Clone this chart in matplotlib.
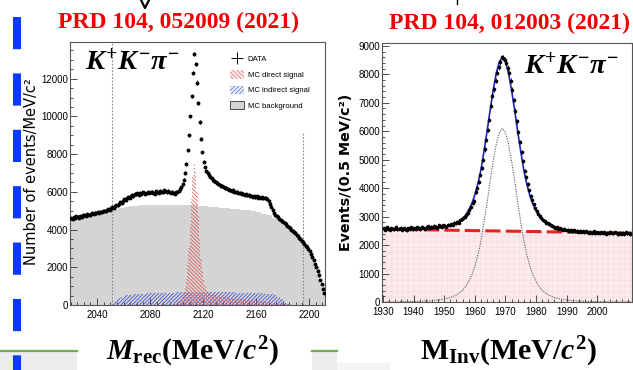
import numpy as np
import matplotlib
matplotlib.use('Agg')
import matplotlib.pyplot as plt
from matplotlib.patches import Patch, Rectangle
from matplotlib.lines import Line2D
from matplotlib.ticker import MultipleLocator
from matplotlib import font_manager

# ---- left panel: recoil mass, 1 MeV bins from 2020 ----
rec_data = [
    4600, 4580, 4650, 4620, 4700, 4660, 4640, 4720, 4690, 4750,
    4780, 4740, 4820, 4800, 4760, 4850, 4880, 4830, 4900, 4870,
    4920, 4890, 4950, 4930, 4980, 5000, 4970, 5040, 5080, 5060,
    5130, 5200, 5170, 5250, 5300, 5280, 5380, 5450, 5420, 5520,
    5600, 5580, 5680, 5720, 5700, 5800, 5850, 5780, 5900, 5880,
    5920, 5860, 5950, 5900, 5980, 5930, 5880, 5960, 6000, 5940,
    5990, 6020, 5950, 5900, 6040, 6000, 5960, 6060, 6010, 5970,
    6080, 6030, 5980, 6050, 6020, 5940, 6000, 5960, 5900, 5980,
    6000, 6050, 6150, 6250, 6400, 6650, 7000, 7500, 8200, 9000,
    10000, 11100, 12300, 13300, 12800, 11800, 10700, 9700, 8800, 8100,
    7600, 7300, 7100, 7000, 6900, 6800, 6720, 6640, 6570, 6500,
    6450, 6420, 6380, 6300, 6320, 6250, 6200, 6230, 6150, 6120,
    6100, 6060, 6080, 6010, 5980, 6020, 5950, 5930, 5960, 5890,
    5900, 5860, 5880, 5820, 5840, 5780, 5800, 5750, 5770, 5720,
    5760, 5700, 5730, 5680, 5720, 5660, 5700, 5650, 5620, 5500,
    5350, 5200, 5050, 4900, 4800, 4720, 4650, 4580, 4500, 4450,
    4400, 4330, 4270, 4200, 4150, 4080, 4000, 3950, 3870, 3800,
    3720, 3650, 3580, 3500, 3420, 3330, 3250, 3150, 3050, 2950,
    2850, 2720, 2550, 2380, 2200, 2000, 1800, 1580, 1350, 1100,
    850, 620,
]
rec_start = 2020

# MC background, 4 MeV bins from 2020
mc_bkg = [
    4550, 4600, 4700, 4780, 4850, 4920, 4980, 5050, 5100, 5150,
    5200, 5230, 5260, 5280, 5300, 5300, 5320, 5320, 5320, 5310,
    5300, 5300, 5290, 5280, 5260, 5240, 5220, 5200, 5170, 5140,
    5100, 5080, 5060, 5050, 5000, 4950, 4850, 4750, 4600, 4450,
    4300, 4150, 3900, 3600, 3250, 2700, 2000, 1100,
]
mc_bkg_start = 2020

# MC direct signal, 1 MeV bins from 2098
mc_direct = [
    80, 100, 130, 170, 230, 320, 450, 650, 950, 1400,
    2100, 3000, 4200, 5600, 6900, 7600, 7100, 6000, 4700, 3500,
    2500, 1800, 1300, 1000, 820, 720, 660, 620, 590, 560,
    540, 520, 500, 485, 470, 455, 440, 430, 420, 410,
    400, 390, 380, 370, 360, 350, 340, 332, 325, 318,
    310, 302, 295, 288, 280, 272, 265, 258, 250, 243,
    236, 229, 222, 215, 208, 200, 193, 186, 178, 170,
    163, 155, 148, 140, 132, 124, 116, 108, 100, 92,
    84, 76, 68, 60, 52, 44, 36, 28, 20, 12,
    6, 2,
]
mc_direct_start = 2098

# MC indirect signal, 2 MeV bins from 2050
mc_indirect = [
    60, 180, 300, 390, 450, 490, 520, 540, 555, 570,
    580, 590, 598, 605, 612, 618, 624, 630, 635, 640,
    645, 650, 654, 658, 662, 666, 670, 673, 676, 680,
    682, 684, 686, 688, 690, 690, 690, 689, 688, 686,
    684, 682, 680, 677, 674, 670, 666, 662, 658, 654,
    650, 645, 640, 635, 630, 624, 618, 612, 605, 598,
    590, 570, 520, 430, 320, 210, 120, 60, 25, 8,
]
mc_indirect_start = 2050

signal_window = [2051, 2195.5]

# ---- right panel: invariant mass, 0.5 MeV bins from 1930 ----
inv_data = [
    2590, 2540, 2620, 2570, 2530, 2600, 2580, 2550, 2630, 2560,
    2570, 2610, 2540, 2590, 2560, 2520, 2600, 2580, 2620, 2550,
    2600, 2570, 2630, 2590, 2550, 2640, 2600, 2580, 2620, 2660,
    2600, 2650, 2620, 2680, 2640, 2610, 2690, 2660, 2630, 2700,
    2680, 2650, 2720, 2690, 2740, 2710, 2780, 2760, 2820, 2790,
    2870, 2900, 2950, 3000, 3060, 3120, 3240, 3330, 3470, 3560,
    3860, 4010, 4220, 4450, 4700, 5000, 5360, 5680, 6050, 6400,
    6900, 7250, 7480, 7780, 8060, 8250, 8430, 8600, 8580, 8520,
    8380, 8220, 8060, 7780, 7460, 7100, 6720, 6350, 5980, 5620,
    5270, 4950, 4620, 4380, 4140, 3920, 3740, 3590, 3430, 3320,
    3180, 3100, 3020, 2950, 2890, 2840, 2790, 2760, 2730, 2690,
    2670, 2640, 2610, 2630, 2580, 2600, 2560, 2540, 2570, 2530,
    2540, 2510, 2530, 2490, 2520, 2480, 2510, 2470, 2500, 2460,
    2480, 2450, 2490, 2460, 2430, 2470, 2440, 2480, 2420, 2460,
    2440, 2410, 2460, 2430, 2450, 2400, 2440, 2420, 2470, 2430,
    2410, 2450, 2420, 2380, 2440, 2400, 2430, 2390, 2450, 2410,
    2420, 2380,
]
inv_start = 1930

# fit curves on a 1 MeV grid from 1930
fit_total = [
    2562, 2560, 2560, 2559, 2559, 2558, 2558, 2558, 2558, 2558,
    2559, 2560, 2562, 2565, 2569, 2574, 2580, 2588, 2599, 2612,
    2630, 2653, 2682, 2720, 2768, 2836, 2925, 3053, 3231, 3459,
    3758, 4156, 4654, 5302, 6001, 6749, 7447, 8045, 8444, 8592,
    8440, 8038, 7437, 6735, 5983, 5281, 4630, 4128, 3726, 3424,
    3193, 3011, 2879, 2787, 2716, 2664, 2622, 2590, 2564, 2542,
    2525, 2511, 2500, 2490, 2481, 2474, 2468, 2462, 2457, 2453,
    2450, 2446, 2442, 2439, 2437, 2433, 2430, 2427, 2426, 2423,
    2421, 2419,
]
fit_signal = [
    2, 2, 3, 4, 6, 7, 8, 10, 12, 14,
    16, 19, 23, 28, 33, 40, 48, 58, 70, 85,
    105, 130, 160, 200, 250, 320, 410, 540, 720, 950,
    1250, 1650, 2150, 2800, 3500, 4250, 4950, 5550, 5950, 6100,
    5950, 5550, 4950, 4250, 3500, 2800, 2150, 1650, 1250, 950,
    720, 540, 410, 320, 250, 200, 160, 130, 105, 85,
    70, 58, 48, 40, 33, 28, 23, 19, 16, 14,
    12, 10, 8, 7, 6, 4, 3, 2, 2, 1,
    1, 1,
]
fit_start = 1930
bkg_x = [1930, 2011.3]
bkg_y = [2560, 2420]
inv_ticks = [1930, 1940, 1950, 1960, 1970, 1980, 1990, 2000]

# ---------------- style ----------------
names = {f.name for f in font_manager.fontManager.ttflist}
narrow = 'Liberation Sans Narrow' if 'Liberation Sans Narrow' in names else 'Liberation Sans'
tick_fs = 8 if narrow == 'Liberation Sans Narrow' else 7
leg_fs = 6.3 if narrow == 'Liberation Sans Narrow' else 5.6

plt.rcParams['font.family'] = [narrow, 'DejaVu Sans']
plt.rcParams['mathtext.fontset'] = 'custom'
plt.rcParams['mathtext.rm'] = 'Liberation Serif:bold'
plt.rcParams['mathtext.it'] = 'Liberation Serif:italic:bold'
plt.rcParams['mathtext.bf'] = 'Liberation Serif:bold'
plt.rcParams['hatch.linewidth'] = 0.55

RED_T = '#f00000'
FRAME = '#555555'

fig = plt.figure(figsize=(6.33, 3.70), dpi=100)
W, H = 633, 370

ax1 = fig.add_axes([70 / W, 1 - 305 / H, 255 / W, 263 / H])
ax2 = fig.add_axes([382 / W, 1 - 302 / H, 250 / W, 259 / H])

# ---------------- left panel ----------------
x_rec = rec_start + 0.5 + np.arange(len(rec_data))
y_rec = np.array(rec_data)
e_bkg = mc_bkg_start + 4 * np.arange(len(mc_bkg) + 1)
e_dir = mc_direct_start + np.arange(len(mc_direct) + 1)
e_ind = mc_indirect_start + 2 * np.arange(len(mc_indirect) + 1)

ax1.stairs(mc_bkg, e_bkg, fill=True, color='#d4d4d4', lw=0, zorder=1)
ax1.stairs(mc_indirect, e_ind, fill=True, facecolor='none', edgecolor='#3c4fd8',
           hatch='/////////', lw=0, zorder=2)
ax1.stairs(mc_direct, e_dir, fill=True, facecolor='none', edgecolor='#e05a5a',
           hatch='\\\\\\\\\\\\\\\\\\', lw=0, zorder=3)
ax1.vlines(signal_window[0], 0, 13950, colors='#888888', linestyles=(0, (1.5, 1.5)), lw=0.8, zorder=4)
ax1.vlines(signal_window[1], 0, 9150, colors='#888888', linestyles=(0, (1.5, 1.5)), lw=0.8, zorder=4)
ax1.errorbar(x_rec, y_rec, yerr=np.sqrt(y_rec), fmt='o', ms=1.8, color='black',
             elinewidth=0.6, capsize=0, zorder=5)

ax1.set_xlim(2019.6, 2212)
ax1.set_ylim(0, 13950)
ax1.xaxis.set_major_locator(MultipleLocator(40))
ax1.xaxis.set_minor_locator(MultipleLocator(5))
ax1.yaxis.set_major_locator(MultipleLocator(2000))
ax1.yaxis.set_minor_locator(MultipleLocator(500))

handles = [
    Line2D([], [], color='black', marker='+', ls='none', ms=8, mew=0.7),
    Patch(facecolor='#fdf0f0', edgecolor='#e07070', hatch='\\\\\\\\\\\\\\\\', lw=0),
    Patch(facecolor='#eef0fc', edgecolor='#5a6ae0', hatch='////////', lw=0),
    Patch(facecolor='#d4d4d4', edgecolor='#333333', lw=0.6),
]
labels = ['DATA', 'MC direct signal', 'MC indirect signal', 'MC background']
ax1.legend(handles, labels, loc='upper left', bbox_to_anchor=(0.627, 0.952),
           frameon=False, fontsize=leg_fs, handlelength=1.8, handleheight=1.3,
           labelspacing=0.85, handletextpad=0.5, borderpad=0, borderaxespad=0)

ax1.text(0.243, 0.924, r'$K^{+}K^{-}\pi^{-}$', transform=ax1.transAxes,
         ha='center', va='center', fontsize=20.5, zorder=6)

# ---------------- right panel ----------------
x_inv = inv_start + 0.25 + 0.5 * np.arange(len(inv_data))
y_inv = np.array(inv_data)
x_fit = fit_start + np.arange(len(fit_total))

ax2.fill_between(bkg_x, 0, bkg_y, facecolor='#fcebed', edgecolor='#f7dde0',
                 hatch='+++', lw=0, zorder=1)
ax2.plot(x_fit, fit_signal, color='#555555', ls=(0, (1, 1.2)), lw=0.8, zorder=2)
ax2.plot(bkg_x, bkg_y, color='#e8231f', lw=2.2, dashes=(5, 1.7), zorder=3)
ax2.plot(x_fit, fit_total, color='#2020c8', lw=1.2, zorder=4)
ax2.errorbar(x_inv, y_inv, yerr=np.sqrt(y_inv), fmt='o', ms=1.6, color='black',
             elinewidth=0.6, capsize=0, zorder=5)

ax2.set_xlim(1929.7, 2011.3)
ax2.set_ylim(0, 9100)
ax2.set_xticks(inv_ticks)
ax2.xaxis.set_minor_locator(MultipleLocator(2))
ax2.yaxis.set_major_locator(MultipleLocator(1000))
ax2.yaxis.set_minor_locator(MultipleLocator(200))

ax2.text(0.756, 0.911, r'$K^{+}K^{-}\pi^{-}$', transform=ax2.transAxes,
         ha='center', va='center', fontsize=20.5, zorder=6)

for ax in (ax1, ax2):
    for s in ax.spines.values():
        s.set_color(FRAME)
        s.set_linewidth(0.8)
    ax.tick_params(which='both', direction='in', top=False, right=False,
                   colors='#333333', labelcolor='black', labelsize=tick_fs, width=0.6)
    ax.tick_params(which='major', length=5)
    ax.tick_params(which='minor', length=2.5)
    ax.tick_params(axis='y', pad=1.5)
    ax.tick_params(axis='x', pad=3.5)

# ---------------- slide decorations ----------------
fig.text(178 / W, 1 - 22 / H, 'PRD 104, 052009 (2021)', color=RED_T, fontsize=17,
         family='Liberation Serif', weight='bold', ha='center', va='center')
fig.text(509 / W, 1 - 23 / H, 'PRD 104, 012003 (2021)', color=RED_T, fontsize=17,
         family='Liberation Serif', weight='bold', ha='center', va='center')

fig.text(32 / W, 1 - 172 / H, 'Number of events/MeV/c²', rotation=90,
         family='DejaVu Sans', fontsize=10.5, ha='center', va='center')
fig.text(346 / W, 1 - 172 / H, 'Events/(0.5 MeV/c²)', rotation=90,
         family='DejaVu Sans', weight='bold', fontsize=10.3, ha='center', va='center')

fig.add_artist(Rectangle((0, 0), 77 / W, 18 / H, transform=fig.transFigure,
                         color='#ececec', lw=0, zorder=0))
fig.add_artist(Rectangle((312 / W, 0), 25 / W, 18 / H, transform=fig.transFigure,
                         color='#ececec', lw=0, zorder=0))
fig.add_artist(Rectangle((337 / W, 0), 53 / W, 7 / H, transform=fig.transFigure,
                         color='#f4f4f4', lw=0, zorder=0))
for x0, x1 in [(0, 77), (312, 337)]:
    fig.add_artist(Line2D([x0 / W, x1 / W], [1 - 351 / H] * 2, lw=1.6, color='#70ad47'))

fig.text(192 / W, 1 - 360 / H, r'$M_{\mathrm{rec}}(\mathrm{MeV}/c^{2})$', fontsize=21.5,
         ha='center', va='baseline')
fig.text(508 / W, 1 - 360 / H, r'$\mathrm{M}_{\mathrm{Inv}}(\mathrm{MeV}/c^{2})$', fontsize=21.5,
         ha='center', va='baseline')

# bits of a cut-off formula above the titles
fig.add_artist(Line2D([141 / W, 145 / W, 149 / W], [1 - 0 / H, 1 - 8 / H, 1 - 0 / H],
                      lw=1.6, color='black'))
fig.add_artist(Line2D([457 / W, 457 / W], [1, 1 - 4 / H], lw=1.0, color='black'))

fig.add_artist(Line2D([17 / W, 17 / W], [1 - 17 / H, 0], lw=5.8, color='#0a3cf5',
                      dashes=(4, 3), dash_capstyle='butt', solid_capstyle='butt'))

fig.savefig('out.png', dpi=100)
